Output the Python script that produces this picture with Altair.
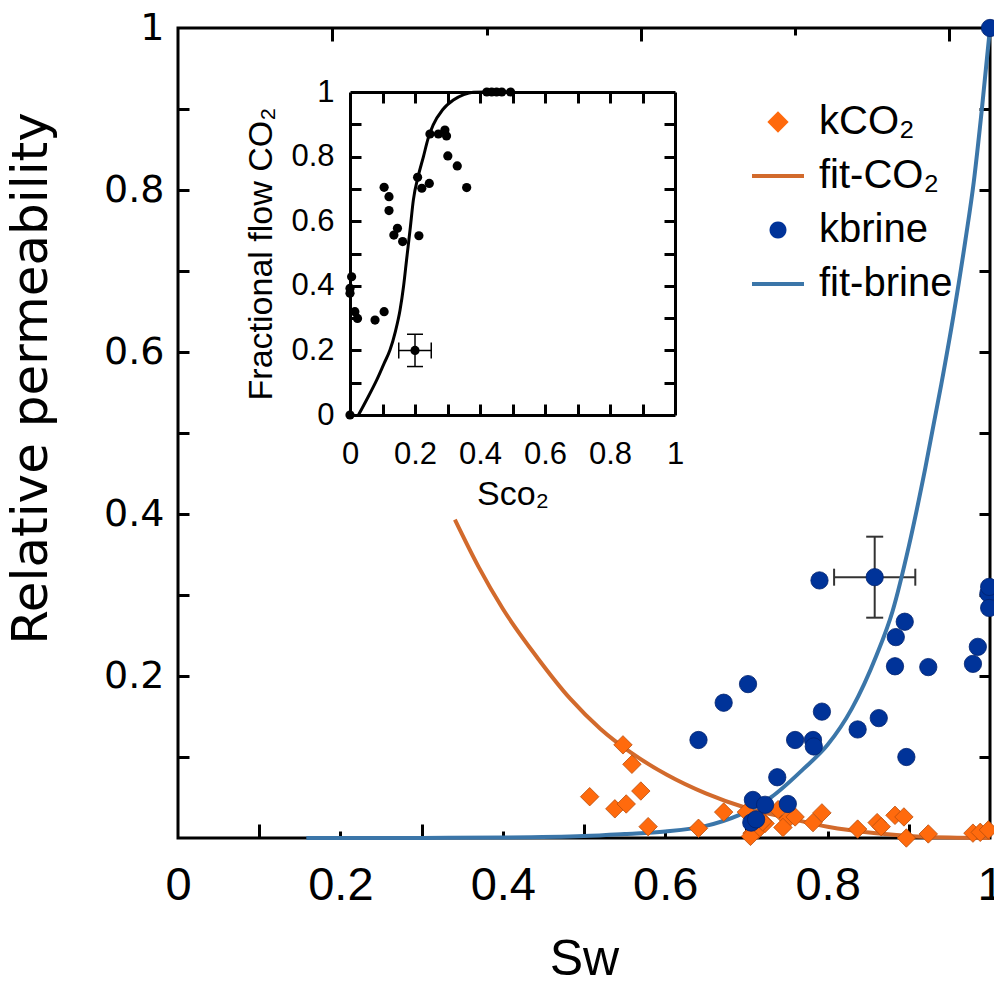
import math
import altair as alt
import pandas as pd

# ---------------- data ----------------
co2_sw = [0.548, 0.559, 0.507, 0.570, 0.538, 0.552, 0.579, 0.641, 0.672, 0.700,
          0.707, 0.714, 0.723, 0.739, 0.751, 0.760, 0.782, 0.793, 0.837, 0.861,
          0.866, 0.883, 0.894, 0.897, 0.924, 0.979, 0.988, 0.998, 0.705, 0.720, 0.745]
co2_kr = [0.115, 0.091, 0.051, 0.058, 0.036, 0.042, 0.014, 0.012, 0.032, 0.032,
          0.006, 0.010, 0.018, 0.035, 0.023, 0.026, 0.019, 0.031, 0.011, 0.019,
          0.014, 0.028, 0.026, 0.000, 0.005, 0.006, 0.007, 0.010, 0.002, 0.020, 0.013]

brine_sw = [1.000, 0.790, 0.858, 0.998, 0.999, 0.999, 0.895, 0.884, 0.985, 0.883,
            0.924, 0.979, 0.702, 0.672, 0.793, 0.863, 0.837, 0.641, 0.760, 0.782,
            0.783, 0.897, 0.738, 0.708, 0.723, 0.751, 0.706, 0.712]
brine_kr = [1.000, 0.318, 0.322, 0.302, 0.310, 0.284, 0.267, 0.248, 0.236, 0.212,
            0.211, 0.215, 0.190, 0.167, 0.156, 0.148, 0.134, 0.121, 0.121, 0.121,
            0.113, 0.100, 0.075, 0.047, 0.041, 0.042, 0.019, 0.023]

fitco2_sw = [0.341, 0.370, 0.400, 0.443, 0.483, 0.520, 0.557, 0.602, 0.650, 0.700,
             0.750, 0.800, 0.860, 0.910, 0.950, 1.000]
fitco2_kr = [0.393, 0.335, 0.283, 0.222, 0.172, 0.135, 0.106, 0.078, 0.055, 0.037,
             0.025, 0.014, 0.006, 0.002, 0.0005, 0.0]

fitbrine_sw = [0.158, 0.300, 0.400, 0.500, 0.550, 0.600, 0.650, 0.690, 0.730, 0.770,
               0.800, 0.830, 0.860, 0.880, 0.900, 0.920, 0.940, 0.955, 0.970, 0.980,
               0.990, 1.000]
fitbrine_kr = [0.0, 0.0001, 0.0006, 0.0025, 0.005, 0.008, 0.015, 0.028, 0.050, 0.085,
               0.115, 0.160, 0.225, 0.280, 0.360, 0.455, 0.560, 0.645, 0.740, 0.810,
               0.900, 1.000]

err_sw = [0.858]
err_kr = [0.322]
err_dsw = [0.05]
err_dkr = [0.05]

# inset: fractional flow
ff_s = [0.0, 0.005, 0.0, 0.0, 0.015, 0.023, 0.077, 0.105, 0.105, 0.120,
        0.120, 0.146, 0.135, 0.162, 0.212, 0.208, 0.221, 0.244, 0.246, 0.272,
        0.292, 0.297, 0.301, 0.330, 0.359, 0.421, 0.436, 0.451, 0.467, 0.494]
ff_f = [0.0, 0.428, 0.392, 0.377, 0.320, 0.299, 0.294, 0.320, 0.705, 0.676,
        0.633, 0.578, 0.557, 0.537, 0.555, 0.736, 0.702, 0.717, 0.870, 0.870,
        0.882, 0.864, 0.802, 0.771, 0.704, 1.0, 1.0, 1.0, 1.0, 1.0]

ffit_s = [0.026, 0.050, 0.082, 0.105, 0.123, 0.140, 0.154, 0.165, 0.174, 0.185,
          0.195, 0.210, 0.226, 0.240, 0.256, 0.285, 0.318, 0.350, 0.379, 0.420, 0.500]
ffit_f = [0.0, 0.045, 0.108, 0.160, 0.201, 0.260, 0.325, 0.400, 0.480, 0.575,
          0.666, 0.740, 0.800, 0.855, 0.898, 0.945, 0.975, 0.992, 0.999, 1.0, 1.0]

ferr_s = [0.20]
ferr_f = [0.20]
ferr_ds = [0.05]
ferr_df = [0.05]

legend_labels = ["kCO₂", "fit-CO₂", "kbrine", "fit-brine"]

main_x_labels = [0, 0.2, 0.4, 0.6, 0.8, 1]
main_y_labels = [0.2, 0.4, 0.6, 0.8, 1]
tenths = [0.1, 0.2, 0.3, 0.4, 0.5, 0.6, 0.7, 0.8, 0.9]
bottom_long = [0.1, 0.3, 0.5, 0.7, 0.9]
bottom_short = [0.2, 0.4, 0.6, 0.8]
top_long = [0.19, 0.57, 0.95]
top_short = [0.38, 0.76]
inset_labels = [0, 0.2, 0.4, 0.6, 0.8, 1]

# ---------------- styles ----------------
ORANGE_PT = "#ff6a0d"
ORANGE_EDGE = "#b84c0c"
ORANGE_LN = "#d26a2c"
BLUE_PT = "#003399"
BLUE_EDGE = "#00226e"
BLUE_LN = "#3b76a9"
NARROW = "Liberation Sans Narrow, Arial Narrow, Liberation Sans, sans-serif"
WIDE = "DejaVu Sans, sans-serif"
SANS = "Liberation Sans, Arial, sans-serif"

W, H = 812, 810
IX0, IX1 = 172, 497      # inset x range inside the plot area
IY0, IY1 = 387, 64       # inset y range (bottom, top)


def ax(**kw):
    base = dict(grid=False, domain=False, labels=False, ticks=False, title=None,
                labelFlush=False, labelOverlap=False, domainColor="black",
                domainWidth=3, tickColor="black", tickWidth=3, labelColor="black",
                titleColor="black", titleFontWeight="normal")
    base.update(kw)
    return alt.Axis(**base)


def tick_axis(orient, offset, values, size, domain=False):
    return ax(orient=orient, offset=offset, values=values, ticks=True,
              tickSize=size, domain=domain)


MX = alt.Scale(domain=[0, 1], nice=False, zero=False)
MY = alt.Scale(domain=[0, 1], nice=False, zero=False)
IXS = alt.Scale(domain=[0, 1], nice=False, zero=False, range=[IX0, IX1])
IYS = alt.Scale(domain=[0, 1], nice=False, zero=False, range=[IY0, IY1])

co2_df = pd.DataFrame({"sw": co2_sw, "kr": co2_kr})
brine_df = pd.DataFrame({"sw": brine_sw, "kr": brine_kr})
fitco2_df = pd.DataFrame({"sw": fitco2_sw, "kr": fitco2_kr})
fitbrine_df = pd.DataFrame({"sw": fitbrine_sw, "kr": fitbrine_kr})
err_df = pd.DataFrame({"sw": err_sw, "kr": err_kr, "dsw": err_dsw, "dkr": err_dkr})
ff_df = pd.DataFrame({"s": ff_s + ferr_s, "f": ff_f + ferr_f})
ffit_df = pd.DataFrame({"s": ffit_s, "f": ffit_f})
ferr_df = pd.DataFrame({"sw": ferr_s, "kr": ferr_f, "dsw": ferr_ds, "dkr": ferr_df})
legend_df = pd.DataFrame({"series": legend_labels})

AX_BOTTOM = ax(orient="bottom", labels=True, values=main_x_labels, format="~g",
               labelFont=NARROW, labelFontSize=47, labelPadding=24,
               title="Sᴡ", titleFont=NARROW, titleFontSize=50, titlePadding=26)
AX_LEFT = ax(orient="left", labels=True, values=main_y_labels, format="~g",
             labelFont=WIDE, labelFontSize=38, labelPadding=14,
             title="Relative permeability", titleFont=WIDE, titleFontSize=50,
             titleX=-122, titleY=350, titleBaseline="bottom", titleAngle=270)

ERR_COLOR = "#333333"


def errbar(df, xs, ys, axes, color, width, cap):
    (a1, a2, a3, a4) = axes
    base = alt.Chart(df).transform_calculate(
        xlo="datum.sw - datum.dsw", xhi="datum.sw + datum.dsw",
        ylo="datum.kr - datum.dkr", yhi="datum.kr + datum.dkr")
    hrule = base.mark_rule(color=color, strokeWidth=width).encode(
        x=alt.X("xlo:Q", scale=xs, axis=a1[0]), x2="xhi:Q",
        y=alt.Y("kr:Q", scale=ys, axis=a1[1]))
    vrule = base.mark_rule(color=color, strokeWidth=width).encode(
        x=alt.X("sw:Q", scale=xs, axis=a2[0]),
        y=alt.Y("ylo:Q", scale=ys, axis=a2[1]), y2="yhi:Q")
    hcaps = base.transform_fold(["xlo", "xhi"], as_=["end", "xv"]).mark_tick(
        color=color, thickness=width, size=cap, orient="vertical", opacity=1).encode(
        x=alt.X("xv:Q", scale=xs, axis=a3[0]),
        y=alt.Y("kr:Q", scale=ys, axis=a3[1]))
    vcaps = base.transform_fold(["ylo", "yhi"], as_=["end", "yv"]).mark_tick(
        color=color, thickness=width, size=cap, orient="horizontal", opacity=1).encode(
        x=alt.X("sw:Q", scale=xs, axis=a4[0]),
        y=alt.Y("yv:Q", scale=ys, axis=a4[1]))
    return [hrule, vrule, hcaps, vcaps]


main_err = errbar(
    err_df, MX, MY,
    [
        (AX_BOTTOM, AX_LEFT),
        (tick_axis("top", -H, bottom_long, 14), tick_axis("right", -W, tenths, 11)),
        (tick_axis("top", -H, bottom_short, 7), tick_axis("left", -W, tenths, 11)),
        (tick_axis("bottom", -H, top_long, 13), None),
    ],
    ERR_COLOR, 2, 17)

fitco2 = alt.Chart(fitco2_df).mark_line(color=ORANGE_LN, strokeWidth=4,
                                        interpolate="monotone").encode(
    x=alt.X("sw:Q", scale=MX, axis=tick_axis("bottom", -H, top_short, 7)),
    y=alt.Y("kr:Q", scale=MY, axis=None))
fitbrine = alt.Chart(fitbrine_df).mark_line(color=BLUE_LN, strokeWidth=4,
                                            interpolate="monotone").encode(
    x=alt.X("sw:Q", scale=MX, axis=None),
    y=alt.Y("kr:Q", scale=MY, axis=None))
co2_pts = alt.Chart(co2_df).mark_point(shape="diamond", filled=True, size=340,
                                       fill=ORANGE_PT, stroke=ORANGE_EDGE,
                                       strokeWidth=0.8, opacity=1).encode(
    x=alt.X("sw:Q", scale=MX, axis=None),
    y=alt.Y("kr:Q", scale=MY, axis=None))
brine_pts = alt.Chart(brine_df).mark_point(shape="circle", filled=True, size=300,
                                           fill=BLUE_PT, stroke=BLUE_EDGE,
                                           strokeWidth=0.8, opacity=1).encode(
    x=alt.X("sw:Q", scale=MX, axis=None),
    y=alt.Y("kr:Q", scale=MY, axis=None))

# ---------------- inset ----------------
IAX_BOTTOM = ax(orient="bottom", offset=-(H - IY0), domain=True, labels=True,
                values=inset_labels, format="~g", labelFont=SANS, labelFontSize=31,
                labelPadding=24, title="Sᴄᴏ₂", titleFont=SANS, titleFontSize=34,
                titlePadding=8)
IAX_LEFT = ax(orient="left", offset=-IX0, domain=True, labels=True,
              values=inset_labels, format="~g", labelFont=SANS, labelFontSize=31,
              labelPadding=16, title="Fractional flow CO₂", titleFont=SANS,
              titleFontSize=34, titlePadding=12)

inset_err = errbar(
    ferr_df, IXS, IYS,
    [
        (IAX_BOTTOM, IAX_LEFT),
        (tick_axis("top", -IY0, tenths, 11), tick_axis("right", -(W - IX0), tenths, 11)),
        (tick_axis("bottom", -(H - IY1), tenths, 11, domain=True),
         tick_axis("left", -IX1, tenths, 11, domain=True)),
        (None, None),
    ],
    "black", 1.5, 16)

inset_fit = alt.Chart(ffit_df).mark_line(color="black", strokeWidth=3,
                                         interpolate="monotone").encode(
    x=alt.X("s:Q", scale=IXS, axis=None),
    y=alt.Y("f:Q", scale=IYS, axis=None))
inset_pts = alt.Chart(ff_df).mark_circle(size=85, color="black", opacity=1).encode(
    x=alt.X("s:Q", scale=IXS, axis=None),
    y=alt.Y("f:Q", scale=IYS, axis=None))

# ---------------- legend ----------------
def poly(r, n=24):
    pts = [(r * math.cos(2 * math.pi * i / n), r * math.sin(2 * math.pi * i / n))
           for i in range(n)]
    return "M" + "L".join(f"{x:.3f},{y:.3f}" for x, y in pts) + "Z"


DIAMOND = "M-0.3,0L0,-0.3L0.3,0L0,0.3Z"
LINE = "M-1,0L1,0"
legend_shapes = [DIAMOND, LINE, poly(0.25), LINE]
legend_colors = [ORANGE_PT, ORANGE_LN, BLUE_PT, BLUE_LN]

LEG = alt.Legend(orient="none", legendX=572, legendY=66, title=None,
                 labelFont=NARROW, labelFontSize=40, labelColor="black",
                 labelOffset=13, symbolSize=2704, symbolStrokeWidth=4,
                 rowPadding=6, padding=0, labelLimit=400)

legend_layer = alt.Chart(legend_df).transform_filter("false").mark_point(
    filled=True, opacity=1, strokeWidth=4).encode(
    shape=alt.Shape("series:N", scale=alt.Scale(domain=legend_labels, range=legend_shapes), legend=LEG),
    fill=alt.Fill("series:N", scale=alt.Scale(domain=legend_labels, range=legend_colors), legend=LEG),
    stroke=alt.Stroke("series:N", scale=alt.Scale(domain=legend_labels, range=legend_colors), legend=LEG),
)

layers = main_err + [fitco2, fitbrine, co2_pts, brine_pts] + inset_err + [inset_fit, inset_pts, legend_layer]

chart = alt.layer(*layers).resolve_scale(
    x="independent", y="independent").resolve_axis(
    x="independent", y="independent").properties(
    width=W, height=H,
    autosize=alt.AutoSizeParams(type="none"),
    padding={"left": 178, "top": 28, "right": 4, "bottom": 150},
).configure(
    background="white",
    view=alt.ViewConfig(stroke="black", strokeWidth=3),
)

chart.save("out.html", embed_options={"renderer": "svg", "actions": False})
